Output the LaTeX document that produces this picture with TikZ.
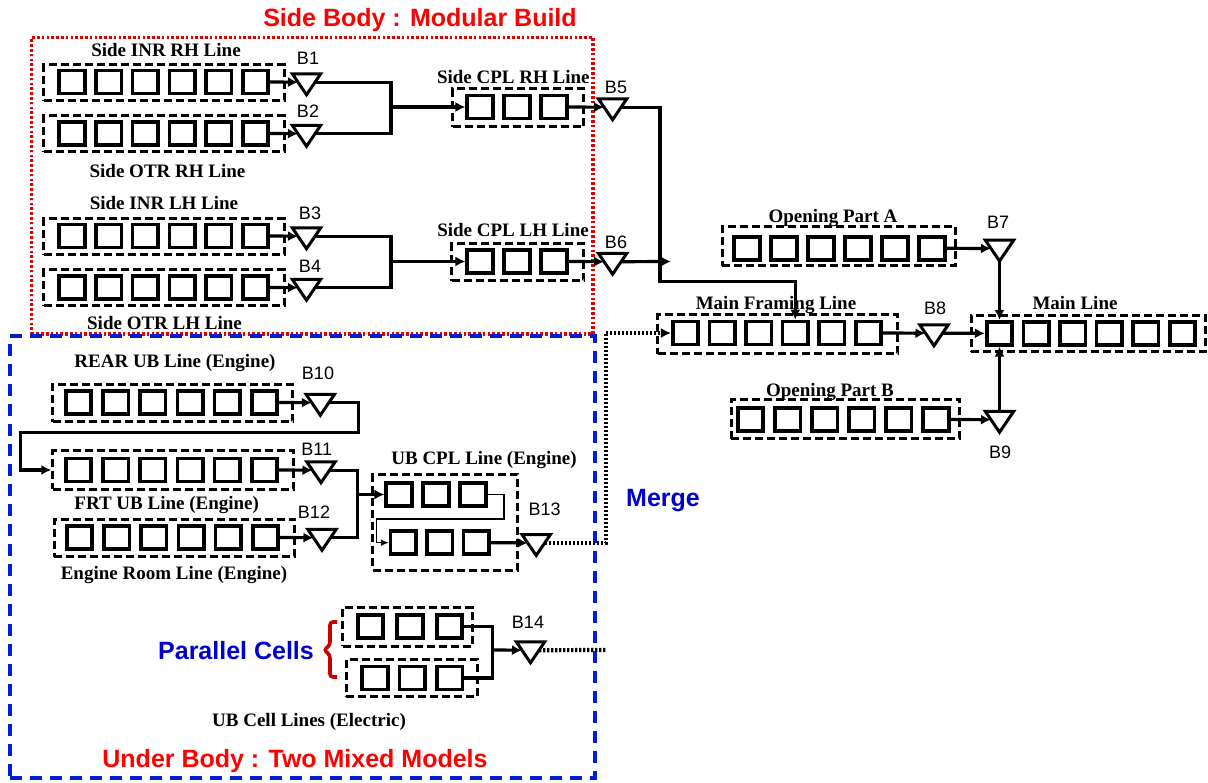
\documentclass[tikz,border=0pt]{standalone}
\usepackage{fontspec}
\setmainfont{Liberation Serif}
\newfontfamily\sansf{Liberation Sans}
\usetikzlibrary{arrows.meta,calc}
\definecolor{tred}{RGB}{255,0,0}
\definecolor{tblue}{RGB}{0,0,210}
\definecolor{bred}{RGB}{200,0,0}
\definecolor{fred}{RGB}{225,0,0}
\definecolor{fblue}{RGB}{0,30,215}
\newcommand\sqrow[5]{%
  \foreach \i in {1,...,#4}{\node[sq] (#1-\i) at ({#2+(\i-1)*#5},#3) {};}}
\begin{document}
\begin{tikzpicture}[x=1pt,y=-1pt,
  sq/.style={draw, line width=3.6pt, minimum width=25.5pt, minimum height=23pt, inner sep=0pt},
  dbox/.style={draw, line width=3pt, dash pattern=on 8pt off 4pt, inner sep=0pt},
  buf/.style={minimum width=28pt, minimum height=20.5pt, inner sep=0pt,
    append after command={\pgfextra{\draw[line width=3pt, line join=miter]
      (\tikzlastnode.north west) -- (\tikzlastnode.north east) -- (\tikzlastnode.south) -- cycle;}}},
  conn/.style={line width=3.2pt},
  arr/.style={conn, -{Latex[length=10pt,width=10pt]}},
  thinarr/.style={line width=1.5pt, -{Latex[length=8pt,width=7pt]}},
  mergeline/.style={line width=4.2pt, dash pattern=on 2.4pt off 1.6pt},
  lbl/.style={font=\fontsize{19}{21}\selectfont\bfseries, inner sep=0pt, anchor=base},
  blbl/.style={font=\sansf\fontsize{18}{20}\selectfont, inner sep=0pt, anchor=base},
  ttl/.style={font=\sansf\bfseries\fontsize{25}{27}\selectfont, inner sep=0pt, anchor=base},
]
\useasboundingbox (0,0) rectangle (1208,783);

% region frames
\node[draw=fred, line width=3.2pt, dash pattern=on 2.6pt off 2.2pt, minimum width=561.4pt, minimum height=296.3pt, inner sep=0pt] (sidebody) at (312.3,185.85) {};
\node[draw=fblue, line width=3.4pt, dash pattern=on 12pt off 8pt, minimum width=585pt, minimum height=442pt, inner sep=0pt] (underbody) at (302.5,557) {};

% titles
\node[ttl, text=tred] (t-side) at (420,26.5) {Side Body : Modular Build};
\node[ttl, text=tred] (t-under) at (295,767) {Under Body : Two Mixed Models};
\node[ttl, text=tblue] (t-merge) at (663,506) {Merge};
\node[ttl, text=tblue] (t-par) at (236,659) {Parallel Cells};

% dashed line boxes
\node[dbox, minimum width=240.5pt, minimum height=36pt] (sirh) at (164.1,83) {};
\node[dbox, minimum width=240.5pt, minimum height=36pt] (sorh) at (164.1,134) {};
\node[dbox, minimum width=240.5pt, minimum height=36pt] (silh) at (164.1,237) {};
\node[dbox, minimum width=240.5pt, minimum height=36pt] (solh) at (164.1,288) {};
\node[dbox, minimum width=131pt, minimum height=38pt] (cplrh) at (518.3,108) {};
\node[dbox, minimum width=132pt, minimum height=37pt] (cpllh) at (517.8,262.2) {};
\node[dbox, minimum width=233.5pt, minimum height=39pt] (opa) at (838.8,246.5) {};
\node[dbox, minimum width=240pt, minimum height=39pt] (mf) at (777.5,334.5) {};
\node[dbox, minimum width=234pt, minimum height=36.5pt] (ml) at (1088,333.7) {};
\node[dbox, minimum width=228.5pt, minimum height=39.5pt] (opb) at (845.3,419.2) {};
\node[dbox, minimum width=240pt, minimum height=37.4pt] (rear) at (172.8,403) {};
\node[dbox, minimum width=241pt, minimum height=38pt] (frt) at (173.3,470) {};
\node[dbox, minimum width=240.5pt, minimum height=37.5pt] (eng) at (174.3,537.8) {};
\node[dbox, minimum width=145pt, minimum height=95pt] (ubcpl) at (445.3,522.5) {};
\node[dbox, minimum width=130pt, minimum height=38.6pt] (cellA) at (407.8,627) {};
\node[dbox, minimum width=131pt, minimum height=37.4pt] (cellB) at (411.7,678) {};

% squares
\sqrow{sirh}{72}{82}{6}{36.7}
\sqrow{sorh}{72}{133.5}{6}{36.7}
\sqrow{silh}{72}{236}{6}{36.7}
\sqrow{solh}{72}{287.5}{6}{36.7}
\sqrow{cplrh}{480}{107}{3}{37}
\sqrow{cpllh}{480}{261.5}{3}{37}
\sqrow{opa}{747}{248.3}{6}{37}
\sqrow{mf}{685.5}{333}{6}{36.6}
\sqrow{ml}{999.5}{333.3}{6}{36.6}
\sqrow{opb}{750.5}{419.5}{6}{37.1}
\sqrow{rear}{78.5}{402.5}{6}{37.2}
\sqrow{frt}{78.5}{470}{6}{37.2}
\sqrow{eng}{79.5}{537.5}{6}{37.2}
\sqrow{cplu}{399}{494.5}{3}{37}
\sqrow{cpll}{403.3}{542.7}{3}{36.5}
\sqrow{cellA}{370.5}{626.3}{3}{39.5}
\sqrow{cellB}{375}{678}{3}{37.3}

% buffers
\node[buf] (b1) at (306.5,84.3) {};
\node[buf] (b2) at (306.5,135.8) {};
\node[buf] (b3) at (306.5,238.3) {};
\node[buf] (b4) at (306.5,289.8) {};
\node[buf] (b5) at (612.6,109.3) {};
\node[buf] (b6) at (612.6,263.8) {};
\node[buf] (b7) at (999.5,250.6) {};
\node[buf] (b8) at (934,335.3) {};
\node[buf] (b9) at (999.5,421.8) {};
\node[buf] (b10) at (320.3,404.8) {};
\node[buf] (b11) at (321,472.3) {};
\node[buf] (b12) at (322,539.8) {};
\node[buf] (b13) at (536.2,545) {};
\node[buf] (b14) at (530.5,652.3) {};

% buffer labels
\node[blbl] (lb1) at (308,65) {B1};
\node[blbl] (lb2) at (308,118) {B2};
\node[blbl] (lb3) at (310,220) {B3};
\node[blbl] (lb4) at (310,272.7) {B4};
\node[blbl] (lb5) at (616,93.3) {B5};
\node[blbl] (lb6) at (616,248.3) {B6};
\node[blbl] (lb7) at (998,228.3) {B7};
\node[blbl] (lb8) at (935,315) {B8};
\node[blbl] (lb9) at (1000,459) {B9};
\node[blbl] (lb10) at (318,380) {B10};
\node[blbl] (lb11) at (316.7,455.5) {B11};
\node[blbl] (lb12) at (314,518.5) {B12};
\node[blbl] (lb13) at (544.7,515) {B13};
\node[blbl] (lb14) at (528,628.3) {B14};

% line labels
\node[lbl] (l-sirh) at (166,56.7) {Side INR RH Line};
\node[lbl] (l-sorh) at (167.5,178) {Side OTR RH Line};
\node[lbl] (l-silh) at (164,210) {Side INR LH Line};
\node[lbl] (l-solh) at (164.5,330) {Side OTR LH Line};
\node[lbl] (l-cplrh) at (513.3,83.3) {Side CPL RH Line};
\node[lbl] (l-cpllh) at (513,236.7) {Side CPL LH Line};
\node[lbl] (l-opa) at (833,222.8) {Opening Part A};
\node[lbl] (l-mf) at (776,309.3) {Main Framing Line};
\node[lbl] (l-ml) at (1075,309.3) {Main Line};
\node[lbl] (l-opb) at (830,396.6) {Opening Part B};
\node[lbl] (l-rear) at (175,367.6) {REAR UB Line (Engine)};
\node[lbl] (l-frt) at (166.7,509.3) {FRT UB Line (Engine)};
\node[lbl] (l-eng) at (174,579.3) {Engine Room Line (Engine)};
\node[lbl] (l-ubcpl) at (484,464.3) {UB CPL Line (Engine)};
\node[lbl] (l-cell) at (309,726) {UB Cell Lines (Electric)};

% junction coordinates
\coordinate (j1) at (391,107);
\coordinate (j2) at (391,261.5);
\coordinate (k5) at (660,281.7);
\coordinate (e6) at (671,261.5);
\coordinate (k10a) at (358.3,432.7);
\coordinate (k10b) at (20.7,432.7);
\coordinate (j3) at (357.5,494.5);
\coordinate (k13a) at (504,494.5);
\coordinate (k13b) at (504,519);
\coordinate (k13c) at (376.7,519);
\coordinate (jm) at (606,333);
\coordinate (k14) at (606,650);
\coordinate (j4) at (492.7,650);

% side body connectors
\draw[arr] (sirh-6.east) -- ($(b1.north west)!0.4!(b1.south)$);
\draw[arr] (sorh-6.east) -- ($(b2.north west)!0.4!(b2.south)$);
\draw[conn] ($(b1.north east)!0.4!(b1.south)$) -| (j1) |- ($(b2.north east)!0.4!(b2.south)$);
\draw[arr] (j1) -- (cplrh-1.west);
\draw[arr] (silh-6.east) -- ($(b3.north west)!0.4!(b3.south)$);
\draw[arr] (solh-6.east) -- ($(b4.north west)!0.4!(b4.south)$);
\draw[conn] ($(b3.north east)!0.4!(b3.south)$) -| (j2) |- ($(b4.north east)!0.4!(b4.south)$);
\draw[arr] (j2) -- (cpllh-1.west);
\draw[arr] (cplrh-3.east) -- ($(b5.north west)!0.4!(b5.south)$);
\draw[arr] (cpllh-3.east) -- ($(b6.north west)!0.4!(b6.south)$);
\draw[arr] ($(b5.north east)!0.4!(b5.south)$) -| (k5) -| (mf-4.north);
\draw[arr] ($(b6.north east)!0.4!(b6.south)$) -- (e6);

% main area connectors
\draw[arr] (opa-6.east) -- ($(b7.north west)!0.4!(b7.south)$);
\draw[arr] (b7.south) -- (ml-1.north);
\draw[arr] (mf-6.east) -- ($(b8.north west)!0.4!(b8.south)$);
\draw[arr] ($(b8.north east)!0.4!(b8.south)$) -- (ml-1.west);
\draw[arr] (opb-6.east) -- ($(b9.north west)!0.4!(b9.south)$);
\draw[arr] (b9.north) -- (ml-1.south);

% under body connectors
\draw[arr] (rear-6.east) -- ($(b10.north west)!0.4!(b10.south)$);
\draw[arr] ($(b10.north east)!0.4!(b10.south)$) -| (k10a) -- (k10b) |- (frt.west);
\draw[arr] (frt-6.east) -- ($(b11.north west)!0.4!(b11.south)$);
\draw[arr] (eng-6.east) -- ($(b12.north west)!0.4!(b12.south)$);
\draw[conn] ($(b11.north east)!0.4!(b11.south)$) -| (j3) |- ($(b12.north east)!0.4!(b12.south)$);
\draw[arr] (j3) -- (cplu-1.west);
\draw[thinarr] (cplu-3.east) -- (k13a) -- (k13b) -- (k13c) |- (cpll-1.west);
\draw[arr] (cpll-3.east) -- ($(b13.north west)!0.4!(b13.south)$);
\draw[conn] (cellA-3.east) -| (j4) |- (cellB-3.east);
\draw[arr] (j4) -- ($(b14.north west)!0.4!(b14.south)$);

% merge (dotted)
\draw[mergeline] ($(b13.north east)!0.4!(b13.south)$) -| (jm);
\draw[mergeline] ($(b14.north east)!0.4!(b14.south)$) -- (k14);
\draw[mergeline, -{Latex[length=10pt,width=10pt]}] (jm) -- (mf-1.west);

% brace
\draw[bred, line width=3.6pt, rounded corners=3pt] (337,622) -- (330,622) -- (330,645) -- (324,650) -- (330,655) -- (330,677) -- (337,677);
\end{tikzpicture}
\end{document}
